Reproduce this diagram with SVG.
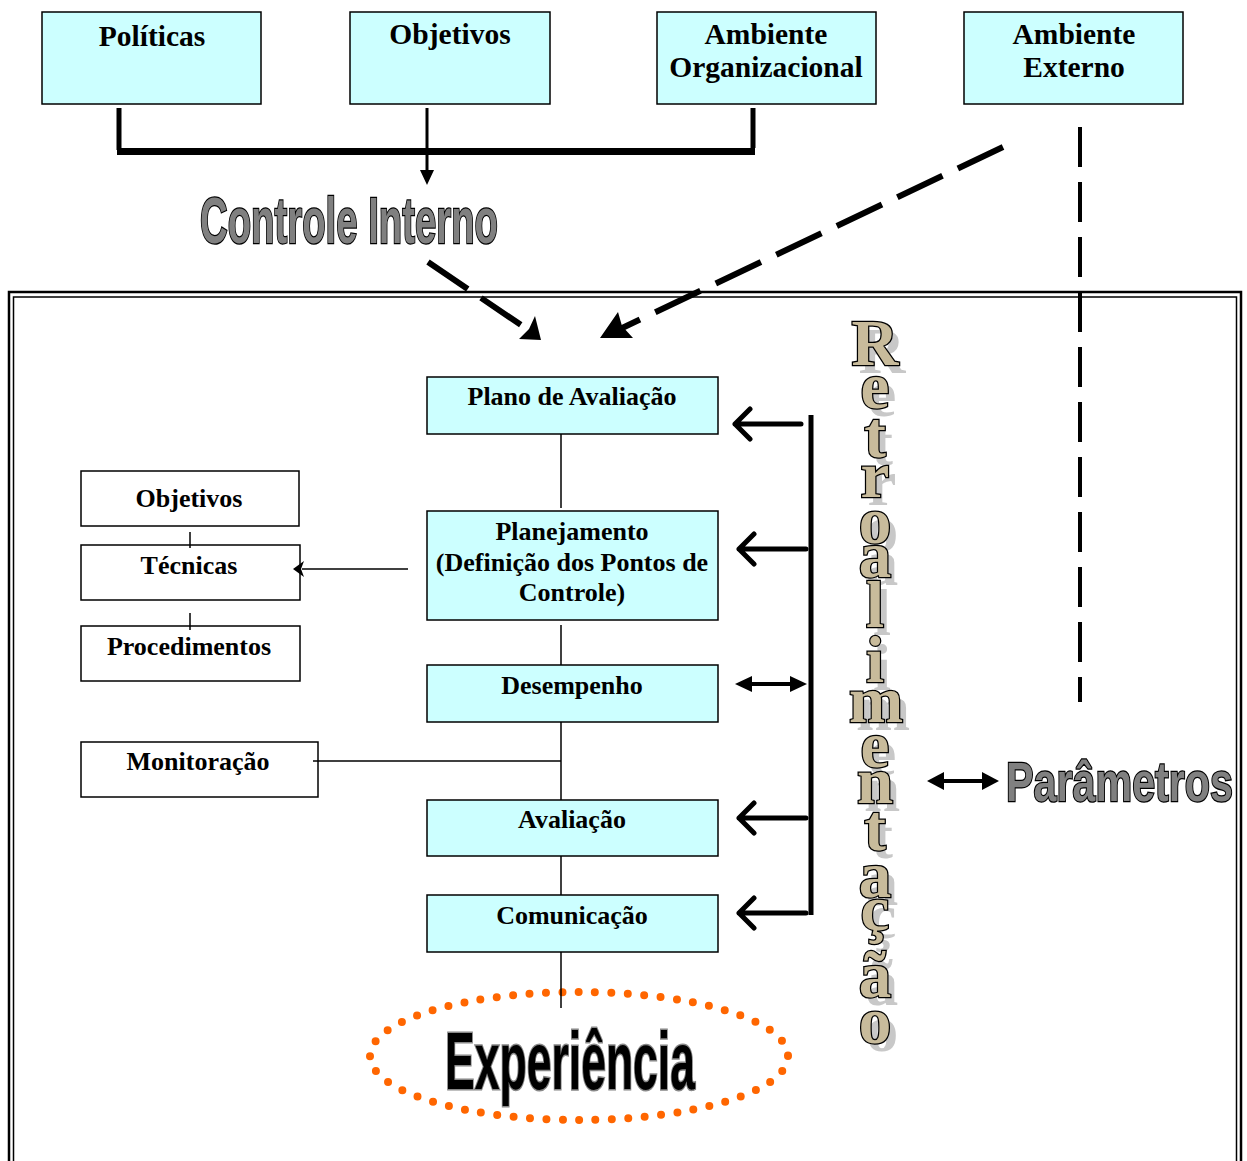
<svg xmlns="http://www.w3.org/2000/svg" width="1247" height="1161" viewBox="0 0 1247 1161">
<style>
.box{fill:#CCFFFF;stroke:#000;stroke-width:1.5}
.wbox{fill:#fff;stroke:#000;stroke-width:1.5}
.t{font-family:"Liberation Serif","Times New Roman",serif;font-weight:bold;fill:#000;text-anchor:middle}
.top{font-size:29.5px}
.m{font-size:26px}
.ln{stroke:#000;stroke-width:1.5;fill:none}
.fb{stroke:#000;stroke-width:5;fill:none;stroke-linecap:round;stroke-linejoin:round}
.big{font-family:"Liberation Sans",Arial,sans-serif;font-weight:bold;fill:#808080;stroke:#000;stroke-width:2.5;paint-order:stroke}
.rl{font-family:"Liberation Serif","Times New Roman",serif;font-weight:bold;font-size:65px;text-anchor:middle;fill:#C8BB9B;stroke:#000;stroke-width:2.5;paint-order:stroke}
.rs{font-family:"Liberation Serif","Times New Roman",serif;font-weight:bold;font-size:65px;text-anchor:middle;fill:#C8C8C8}
</style>

<rect x="9" y="292" width="1232" height="900" fill="none" stroke="#000" stroke-width="2.5"/>
<rect x="13.5" y="297" width="1223" height="900" fill="none" stroke="#000" stroke-width="1.5"/>

<g id="politicas"><rect class="box" x="42" y="12" width="219" height="92"/><text class="t top" x="152" y="46">Políticas</text></g>
<g id="objetivos-top"><rect class="box" x="350" y="12" width="200" height="92"/><text class="t top" x="450" y="44">Objetivos</text></g>
<g id="ambiente-org"><rect class="box" x="657" y="12" width="219" height="92"/><text class="t top" x="766" y="44">Ambiente</text><text class="t top" x="766" y="77">Organizacional</text></g>
<g id="ambiente-ext"><rect class="box" x="964" y="12" width="219" height="92"/><text class="t top" x="1074" y="44">Ambiente</text><text class="t top" x="1074" y="77">Externo</text></g>

<g id="controle-interno"><text class="big" x="200" y="243" font-size="64" textLength="298" lengthAdjust="spacingAndGlyphs">Controle Interno</text></g>

<g id="plano"><rect class="box" x="427" y="377" width="291" height="57"/><text class="t m" x="572" y="405">Plano de Avaliação</text></g>
<g id="planejamento"><rect class="box" x="427" y="511" width="291" height="109"/><text class="t m" x="572" y="540">Planejamento</text><text class="t m" x="572" y="571">(Definição dos Pontos de</text><text class="t m" x="572" y="601">Controle)</text></g>
<g id="desempenho"><rect class="box" x="427" y="665" width="291" height="57"/><text class="t m" x="572" y="694">Desempenho</text></g>
<g id="avaliacao"><rect class="box" x="427" y="800" width="291" height="56"/><text class="t m" x="572" y="828">Avaliação</text></g>
<g id="comunicacao"><rect class="box" x="427" y="895" width="291" height="57"/><text class="t m" x="572" y="924">Comunicação</text></g>

<g id="objetivos"><rect class="wbox" x="81" y="471" width="218" height="55"/><text class="t m" x="189" y="507">Objetivos</text></g>
<g id="tecnicas"><rect class="wbox" x="81" y="545" width="219" height="55"/><text class="t m" x="189" y="574">Técnicas</text></g>
<g id="procedimentos"><rect class="wbox" x="81" y="626" width="219" height="55"/><text class="t m" x="189" y="655">Procedimentos</text></g>
<g id="monitoracao"><rect class="wbox" x="81" y="742" width="237" height="55"/><text class="t m" x="198" y="770">Monitoração</text></g>

<g id="retroalimentacao">
<text class="rs" x="882" y="373">R</text><text class="rl" x="875" y="365">R</text>
<text class="rs" x="882" y="416">e</text><text class="rl" x="875" y="408">e</text>
<text class="rs" x="882" y="465">t</text><text class="rl" x="875" y="457">t</text>
<text class="rs" x="882" y="505">r</text><text class="rl" x="875" y="497">r</text>
<text class="rs" x="882" y="551">o</text><text class="rl" x="875" y="543">o</text>
<text class="rs" x="882" y="585">a</text><text class="rl" x="875" y="577">a</text>
<text class="rs" x="882" y="635">l</text><text class="rl" x="875" y="627">l</text>
<text class="rs" x="882" y="690">i</text><text class="rl" x="875" y="682">i</text>
<text class="rs" x="883" y="730">m</text><text class="rl" x="876" y="722">m</text>
<text class="rs" x="882" y="775">e</text><text class="rl" x="875" y="767">e</text>
<text class="rs" x="882" y="811">n</text><text class="rl" x="875" y="803">n</text>
<text class="rs" x="882" y="858">t</text><text class="rl" x="875" y="850">t</text>
<text class="rs" x="882" y="905">a</text><text class="rl" x="875" y="897">a</text>
<text class="rs" x="882" y="938">ç</text><text class="rl" x="875" y="930">ç</text>
<text class="rs" x="882" y="1005">ã</text><text class="rl" x="875" y="997">ã</text>
<text class="rs" x="882" y="1051">o</text><text class="rl" x="875" y="1043">o</text>
</g>

<g id="parametros"><text class="big" x="1006" y="801" font-size="56" textLength="227" lengthAdjust="spacingAndGlyphs">Parâmetros</text></g>

<g id="experiencia">
<ellipse cx="579" cy="1056" rx="209" ry="64" fill="none" stroke="#FF6600" stroke-width="8" stroke-linecap="round" stroke-dasharray="0 16.4"/>
<text x="445" y="1089" font-family="'Liberation Sans',Arial,sans-serif" font-weight="bold" font-size="82" fill="#000" stroke="#888" stroke-width="3" paint-order="stroke" textLength="250" lengthAdjust="spacingAndGlyphs">Experiência</text>
</g>

<g id="connectors">
<line x1="119" y1="108" x2="119" y2="150" stroke="#000" stroke-width="5"/>
<line x1="753" y1="108" x2="753" y2="148" stroke="#000" stroke-width="5"/>
<line x1="117" y1="151.5" x2="755" y2="151.5" stroke="#000" stroke-width="7"/>
<line x1="427" y1="108" x2="427" y2="172" stroke="#000" stroke-width="3"/>
<polygon points="420,170 434,170 427,185" fill="#000"/>
<line x1="428" y1="262" x2="524" y2="327" stroke="#000" stroke-width="6" stroke-dasharray="48 16"/>
<polygon points="541,340 535,316 529,329 519,339" fill="#000"/>
<line x1="1003" y1="147" x2="618" y2="330" stroke="#000" stroke-width="6" stroke-dasharray="50 17"/>
<polygon points="600,338 618,312 622,326 633,338" fill="#000"/>
<line x1="1080" y1="127" x2="1080" y2="702" stroke="#000" stroke-width="4" stroke-dasharray="40 15"/>
<line class="ln" x1="561" y1="434" x2="561" y2="508"/>
<line class="ln" x1="561" y1="625" x2="561" y2="665"/>
<line class="ln" x1="561" y1="722" x2="561" y2="800"/>
<line class="ln" x1="561" y1="856" x2="561" y2="895"/>
<line class="ln" x1="561" y1="952" x2="561" y2="1008"/>
<line class="ln" x1="190" y1="532" x2="190" y2="548"/>
<line class="ln" x1="190" y1="613" x2="190" y2="630"/>
<line class="ln" x1="408" y1="569" x2="302" y2="569"/>
<polygon points="293,569 304,561 301,569 304,577" fill="#000"/>
<line class="ln" x1="313" y1="761" x2="561" y2="761"/>
<line x1="811" y1="415" x2="811" y2="915" stroke="#000" stroke-width="5"/>
<path class="fb" d="M801 424 H735 M750 409 L735 424 L750 439"/>
<path class="fb" d="M806 549 H739 M754 534 L739 549 L754 564"/>
<path class="fb" d="M806 818 H739 M754 803 L739 818 L754 833"/>
<path class="fb" d="M806 913 H739 M754 898 L739 913 L754 928"/>
<line x1="748" y1="684" x2="795" y2="684" stroke="#000" stroke-width="4"/>
<polygon points="735,684 752,676 752,692" fill="#000"/>
<polygon points="807,684 790,676 790,692" fill="#000"/>
<line x1="940" y1="781" x2="986" y2="781" stroke="#000" stroke-width="4"/>
<polygon points="927,781 944,772 944,790" fill="#000"/>
<polygon points="999,781 982,772 982,790" fill="#000"/>
</g>
</svg>
